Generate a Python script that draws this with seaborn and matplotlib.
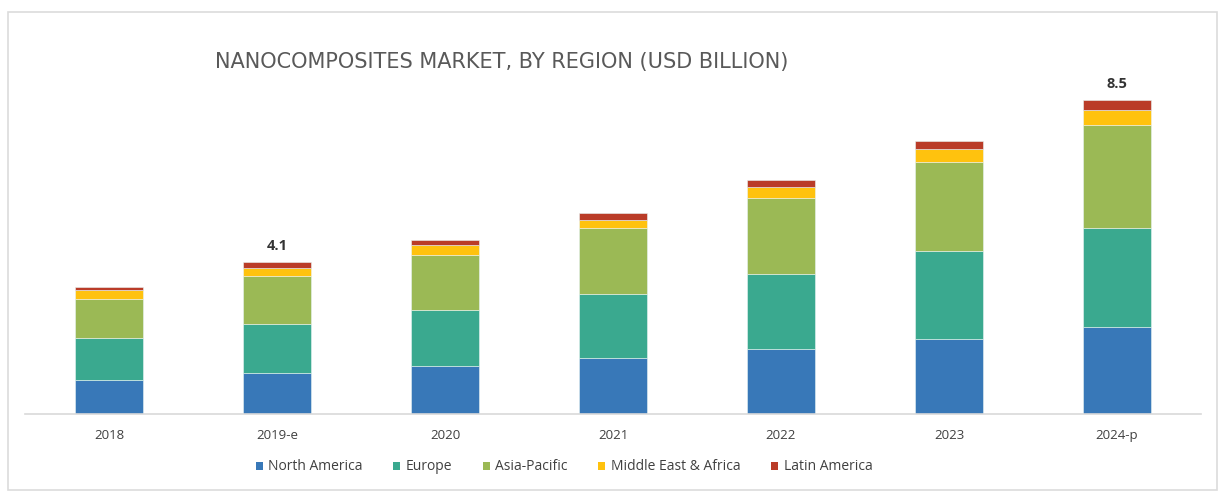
import numpy as np
import pandas as pd
import matplotlib
matplotlib.use("Agg")
import matplotlib.pyplot as plt
from matplotlib.patches import Patch, Rectangle
import seaborn as sns

# Market size by region (USD billion)
years = ["2018", "2019-e", "2020", "2021", "2022", "2023", "2024-p"]
regions = ["North America", "Europe", "Asia-Pacific", "Middle East & Africa", "Latin America"]
north_america = [0.92, 1.12, 1.31, 1.51, 1.76, 2.03, 2.35]
europe = [1.14, 1.30, 1.51, 1.73, 2.02, 2.38, 2.68]
asia_pacific = [1.06, 1.30, 1.49, 1.78, 2.05, 2.41, 2.79]
middle_east_africa = [0.22, 0.22, 0.25, 0.22, 0.30, 0.34, 0.39]
latin_america = [0.09, 0.16, 0.15, 0.20, 0.20, 0.21, 0.29]
annotated = {"2019-e": "4.1", "2024-p": "8.5"}

colors = ["#3878B8", "#3AA98F", "#9BB955", "#FFC20E", "#BA3C28"]
series = [north_america, europe, asia_pacific, middle_east_africa, latin_america]

sns.set_theme(style="white")
plt.rcParams["font.family"] = ["Open Sans", "DejaVu Sans"]

fig = plt.figure(figsize=(12.25, 4.96), dpi=100)
fig.patch.set_facecolor("white")

# light frame around the chart
fig.add_artist(Rectangle((8 / 1225, 6 / 496), 1209 / 1225, 478 / 496,
                         transform=fig.transFigure, fill=False,
                         edgecolor="#dcdcdc", linewidth=1.2))

ax = fig.add_axes([25 / 1225, 82 / 496, 1176 / 1225, 370 / 496])

bottom = np.zeros(len(years))
for name, vals, col in zip(regions, series, colors):
    df = pd.DataFrame({"year": years, "value": vals})
    sns.barplot(data=df, x="year", y="value", color=col, bottom=bottom,
                width=0.4, ax=ax, saturation=1, edgecolor="#e8f4f4",
                linewidth=0.4)
    bottom = bottom + np.array(vals)

for i, y in enumerate(years):
    if y in annotated:
        ax.text(i, bottom[i] + 0.24, annotated[y], ha="center", va="bottom",
                fontsize=10.5, fontweight="bold", color="#333333")

ax.set_xlim(-0.5, 6.5)
ax.set_ylim(0, 10)
ax.set_xlabel("")
ax.set_ylabel("")
ax.set_yticks([])
for s in ["top", "right", "left"]:
    ax.spines[s].set_visible(False)
ax.spines["bottom"].set_color("#d9d9d9")
ax.spines["bottom"].set_linewidth(1.2)
ax.tick_params(axis="x", length=0, pad=11, labelsize=9.5, labelcolor="#404040")

fig.text(215 / 1225, 1 - 62 / 496, "NANOCOMPOSITES MARKET, BY REGION (USD BILLION)",
         ha="left", va="center", fontsize=15, color="#595959",
         family=["DejaVu Sans"])

handles = [Patch(facecolor=c, edgecolor="none") for c in colors]
fig.legend(handles, regions, loc="center", bbox_to_anchor=(564 / 1225, 1 - 467 / 496),
           ncol=5, frameon=False, fontsize=10, handlelength=0.5, handleheight=0.5,
           handletextpad=0.4, columnspacing=2.2, labelcolor="#404040")

fig.savefig("out.png", dpi=100, facecolor="white")
